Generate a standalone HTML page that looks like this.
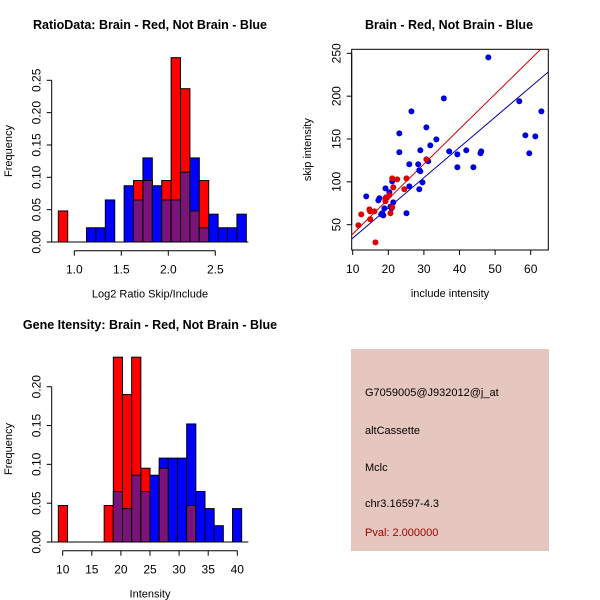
<!DOCTYPE html>
<html><head><meta charset="utf-8"><style>
html,body{margin:0;padding:0;background:#fff;}
svg{display:block;font-family:"Liberation Sans",Arial,sans-serif;}
</style></head><body>
<svg id="s" width="600" height="600" viewBox="0 0 600 600">
<rect x="351" y="349" width="198" height="202" fill="#e6c7c0"/>
<text x="365" y="396" font-size="11" fill="#000">G7059005@J932012@j_at</text>
<text x="365" y="434" font-size="11" fill="#000">altCassette</text>
<text x="365" y="471" font-size="11" fill="#000">Mclc</text>
<text x="365" y="507" font-size="11" fill="#000">chr3.16597-4.3</text>
<text x="365" y="536" font-size="11" fill="#a00000">Pval: 2.000000</text>
</svg>
<script>
// ---- Ratio histogram data ----
const ratioBinStart = 0.83;
const ratioBinWidth = 0.1;
const ratioRed  = [0.048,0,0,0,0,0,0,0,0.095,0.095,0,0.095,0.285,0.237,0.048,0.095,0,0,0,0];
const ratioBlue = [0,0,0,0.022,0.022,0.065,0,0.087,0.065,0.13,0.087,0.065,0.065,0.108,0.13,0.022,0.043,0.022,0.022,0.043];
const ratioXTicks = [1.0,1.5,2.0,2.5];
const ratioXTickLabels = ["1.0","1.5","2.0","2.5"];
const ratioYTicks = [0,0.05,0.10,0.15,0.20,0.25];
const ratioYTickLabels = ["0.00","0.05","0.10","0.15","0.20","0.25"];
// ---- Intensity histogram data ----
const intBinStart = 9.25;
const intBinWidth = 1.575;
const intRed  = [0.047,0,0,0,0,0.047,0.238,0.19,0.238,0.095,0,0.095,0,0,0.047,0,0,0,0,0];
const intBlue = [0,0,0,0,0,0,0.065,0.043,0.086,0.065,0.086,0.108,0.108,0.108,0.152,0.065,0.043,0.021,0,0.043];
const intXTicks = [10,15,20,25,30,35,40];
const intXTickLabels = ["10","15","20","25","30","35","40"];
const intYTicks = [0,0.05,0.10,0.15,0.20];
const intYTickLabels = ["0.00","0.05","0.10","0.15","0.20"];
// ---- Scatter data ----
const blueX = [48.1,35.6,26.5,56.8,63.0,23.1,30.7,33.5,31.8,58.5,61.3,23.1,29.0,37.1,41.9,46.1,45.9,39.4,59.6,25.9,28.4,31.2,28.7,29.0,39.4,43.9,29.6,25.9,21.1,19.2,28.7,13.8,20.3,17.5,17.2,19.4,21.4,18.9,20.9,25.1,18.3,18.6,18.0,20.6];
const blueY = [245.3,197.4,182.2,194,182.2,156.6,163.6,149.6,142.6,154.3,153.1,134.5,136.8,135.6,136.8,135.6,133.3,132.1,133.3,120.5,120.5,124.0,113.5,112.3,117.0,117.0,99.4,94.7,100.6,92.4,91.3,83.1,87.8,80.8,78.4,81.9,76.1,69.1,69.1,63.3,63.3,60.9,62.1,71.0];
const redX = [11.6,12.4,14.7,14.9,16.1,14.9,16.4,19.2,19.7,20.3,21.4,21.1,22.5,25.1,24.5,30.7,20.6,21.1,19.2];
const redY = [49.3,62.1,67.9,65.6,65.6,56.3,29.4,77.3,81.9,84.3,93.6,104.1,102.9,104.1,91.3,126.2,63.3,70.3,80.8];
const redFit = [-1.6, 4.08];
const blueFit = [-1.0, 3.53];
const scXTicks = [10,20,30,40,50,60];
const scXTickLabels = ["10","20","30","40","50","60"];
const scYTicks = [50,100,150,200,250];
const scYTickLabels = ["50","100","150","200","250"];

const svg = document.getElementById('s');
const NS = 'http://www.w3.org/2000/svg';
function mk(tag, attrs, parent){
  const e = document.createElementNS(NS, tag);
  for (const k in attrs) e.setAttribute(k, attrs[k]);
  (parent||svg).appendChild(e);
  return e;
}
function txt(x,y,s,size,extra,parent){
  const t = mk('text', Object.assign({x:x,y:y,'font-size':size,'text-anchor':'middle'}, extra||{}), parent);
  t.textContent = s;
  return t;
}
function lin(d0,d1,p0,p1){ return v => p0 + (v-d0)/(d1-d0)*(p1-p0); }

function hist(cfg){
  const g = mk('g', {});
  
  
  const xs = cfg.xs, ys = cfg.ys;
  const y0 = ys(0);
  for (let i=0;i<cfg.red.length;i++){
    const a = xs(cfg.start + i*cfg.width), b = xs(cfg.start + (i+1)*cfg.width);
    const r = cfg.red[i], bl = cfg.blue[i];
    const hi = Math.max(r,bl), lo = Math.min(r,bl);
    if (hi > 0){
      const rc = mk('rect', {x:a, y:ys(hi), width:b-a, height:y0-ys(hi), fill: r>=bl ? '#ff0000' : '#0000ff', stroke:'#000', 'stroke-width':1}, g);
      
      
    }
    if (lo > 0){
      const pc = mk('rect', {x:a, y:ys(lo), width:b-a, height:y0-ys(lo), fill:'#7a1478', stroke:'#000', 'stroke-width':1}, g);
      
      
    }
  }
  const base = mk('line', {x1:cfg.left, x2:cfg.right, y1:y0, y2:y0, stroke:'#000'}, g);
  
  
  axes(g, cfg);
}
function axes(g, cfg){
  const xs = cfg.xs, ys = cfg.ys;
  const xa = mk('g', {}, g);
  
  
  mk('line', {x1:xs(cfg.xt[0]), x2:xs(cfg.xt[cfg.xt.length-1]), y1:cfg.xAxisY, y2:cfg.xAxisY, stroke:'#000'}, xa);
  cfg.xt.forEach((v,i)=>{
    mk('line', {x1:xs(v), x2:xs(v), y1:cfg.xAxisY, y2:cfg.xAxisY+5, stroke:'#000'}, xa);
    const t = txt(xs(v), cfg.xAxisY+23, cfg.xl[i], 12, {}, xa);
    
    
  });
  const ya = mk('g', {}, g);
  
  
  mk('line', {x1:cfg.yAxisX, x2:cfg.yAxisX, y1:ys(cfg.yt[0]), y2:ys(cfg.yt[cfg.yt.length-1]), stroke:'#000'}, ya);
  cfg.yt.forEach((v,i)=>{
    mk('line', {x1:cfg.yAxisX-5, x2:cfg.yAxisX, y1:ys(v), y2:ys(v), stroke:'#000'}, ya);
    const x = cfg.yAxisX-11, y = ys(v);
    const t = txt(x, y, cfg.yl[i], 12, {transform:'rotate(-90 '+x+' '+y+')'}, ya);
    
    
  });
  const xt = txt((cfg.left+cfg.right)/2, cfg.xAxisY+47, cfg.xtitle, 11, {}, g);
  
  
  const yc = (cfg.top+cfg.bottom)/2;
  const ytx = cfg.ytx || 12;
  const yt = txt(ytx, yc, cfg.ytitle, 11, {transform:'rotate(-90 '+ytx+' '+yc+')'}, g);
  
  
  const tt = txt(cfg.tx, cfg.ty, cfg.title, 12.5, {'font-weight':'bold'}, g);
  
  
}

hist({name:'ratio-histogram', start:ratioBinStart, width:ratioBinWidth, red:ratioRed, blue:ratioBlue,
  xs: lin(1.0,2.5,74.3,215.3), ys: lin(0,0.25,242,80.3), left:51.7, right:248.3, top:60, bottom:242,
  xt:ratioXTicks, xl:ratioXTickLabels, yt:ratioYTicks, yl:ratioYTickLabels, xAxisY:250.7, yAxisX:51.7,
  xtitle:'Log2 Ratio Skip/Include', ytitle:'Frequency', ytx:12, tx:150, ty:29, title:'RatioData: Brain - Red, Not Brain - Blue'});

hist({name:'intensity-histogram', start:intBinStart, width:intBinWidth, red:intRed, blue:intBlue,
  xs: lin(10,40,62.7,237.3), ys: lin(0,0.20,542,386.7), left:51.7, right:248.3, top:356, bottom:542,
  xt:intXTicks, xl:intXTickLabels, yt:intYTicks, yl:intYTickLabels, xAxisY:550.7, yAxisX:51.7,
  xtitle:'Intensity', ytitle:'Frequency', ytx:12, tx:150, ty:329, title:'Gene Itensity: Brain - Red, Not Brain - Blue'});

// scatter
(function(){
  const xs = lin(10,60,352.7,530.7), ys = lin(50,250,224.7,53.3);
  const g = mk('g', {});
  
  
  const L=351.7,R=548.3,T=49.3,B=250;
  const box = mk('rect', {x:L,y:T,width:R-L,height:B-T,fill:'none',stroke:'#000'}, g);
  
  
  const clip = mk('clipPath', {id:'cp'}, g);
  mk('rect', {x:L,y:T,width:R-L,height:B-T}, clip);
  const lines = mk('g', {'clip-path':'url(#cp)'}, g);
  [[redFit,'#cc0000','red-fit-line'],[blueFit,'#0000aa','blue-fit-line']].forEach(f=>{
    const c=f[0], xa=5, xb=70;
    const l = mk('line', {x1:xs(xa), y1:ys(c[0]+c[1]*xa), x2:xs(xb), y2:ys(c[0]+c[1]*xb), stroke:f[1], 'stroke-width':1}, lines);
    
    
  });
  blueX.forEach((v,i)=>{
    const c = mk('circle', {cx:xs(v), cy:ys(blueY[i]), r:3, fill:'#0000dd'}, g);
    
    
  });
  redX.forEach((v,i)=>{
    const c = mk('circle', {cx:xs(v), cy:ys(redY[i]), r:3, fill:'#dd0000'}, g);
    
    
  });
  axes(g, {xs:xs, ys:ys, xt:scXTicks, xl:scXTickLabels, yt:scYTicks, yl:scYTickLabels, xAxisY:B, yAxisX:L,
    left:L, right:R, top:T, bottom:B, xtitle:'include intensity', ytitle:'skip intensity', ytx:311,
    tx:449, ty:29, title:'Brain - Red, Not Brain - Blue'});
})();
</script>
</body></html>
